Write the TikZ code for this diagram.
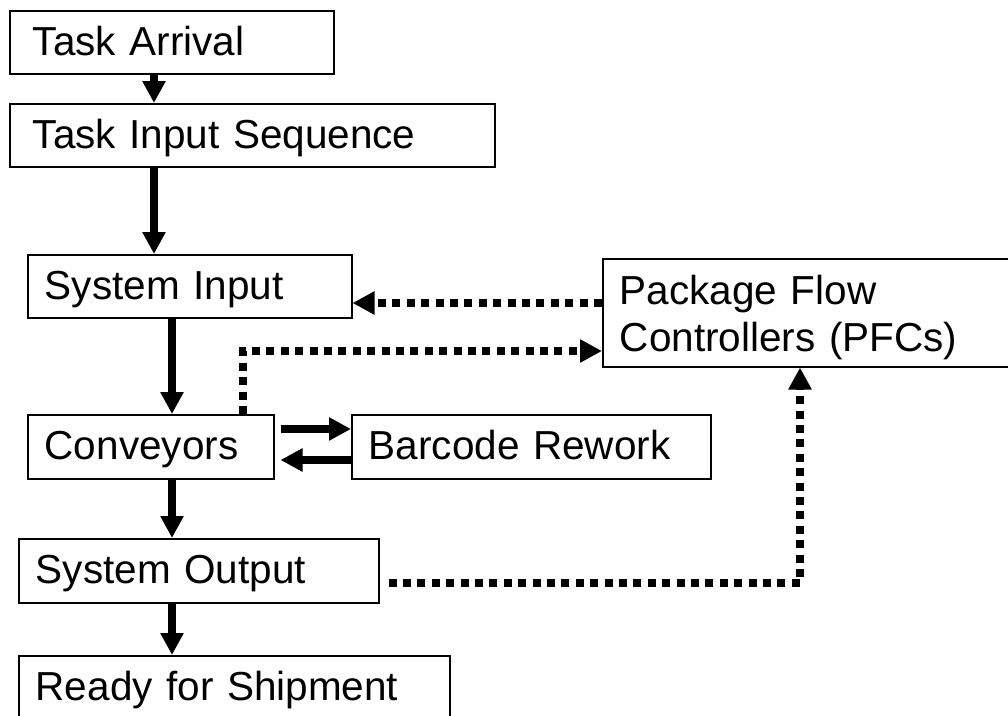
\documentclass[tikz,border=0pt]{standalone}
\usepackage{fontspec}
\setmainfont{Liberation Sans}
\usepackage{tikz}
\usetikzlibrary{arrows.meta}

\begin{document}
\begin{tikzpicture}[x=1pt,y=-1pt,
        box/.style={draw,line width=1.5pt,anchor=north west,align=left,inner xsep=17pt,inner ysep=0pt,
                text height=30pt,text depth=4pt,font=\fontsize{40.5pt}{47pt}\selectfont},
        flow/.style={line width=8pt,-{Triangle[length=22pt,width=22pt]}},
        info/.style={line width=8pt,dash pattern=on 8pt off 6.4pt,-{Triangle[length=22pt,width=22pt]}}]
        \useasboundingbox (0,0) rectangle (1008,715);
        \clip (0,0) rectangle (1008,715);

        \node[box,inner xsep=23pt,text width=278pt,minimum height=63pt] (arrival) at (9,10) {Task Arrival};
        \node[box,inner xsep=23pt,text width=439pt,minimum height=63pt] (sequence) at (9,103) {Task Input Sequence};
        \node[box,text width=290pt,minimum height=63pt] (sysin) at (27,254) {System Input};
        \node[box,text width=386pt,minimum height=108pt,text depth=46pt] (pfc) at (602,258) {Package Flow\\Controllers (PFCs)};
        \node[box,text width=212pt,minimum height=64pt] (conv) at (27,414) {Conveyors};
        \node[box,text width=325pt,minimum height=64pt] (barcode) at (351,414) {Barcode Rework};
        \node[box,text width=326pt,minimum height=64pt] (sysout) at (18,538) {System Output};
        \node[box,text width=397pt,minimum height=63pt] (ready) at (18,655) {Ready for Shipment};

        % main flow
        \draw[flow] (arrival.south -| 154,0) -- (sequence.north -| 154,0);
        \draw[flow] (sequence.south -| 154,0) -- (sysin.north -| 154,0);
        \draw[flow] (sysin.south -| 172,0) -- (conv.north -| 172,0);
        \draw[flow] (conv.south -| 172,0) -- (sysout.north -| 172,0);
        \draw[flow] (sysout.south -| 172,0) -- (ready.north -| 172,0);
        \draw[flow,shorten <=6pt] (conv.east |- 0,429) -- (barcode.west |- 0,429);
        \draw[flow,shorten >=6pt] (barcode.west |- 0,460) -- (conv.east |- 0,460);

        % PFC links
        \draw[info] (pfc.west |- 0,303) -- (sysin.east |- 0,303);
        \draw[info] (conv.north -| 243,0) |- (pfc.west |- 0,351);
        \draw[info,shorten <=9pt] (sysout.east |- 0,583) -| (pfc.south -| 800,0);
\end{tikzpicture}
\end{document}
